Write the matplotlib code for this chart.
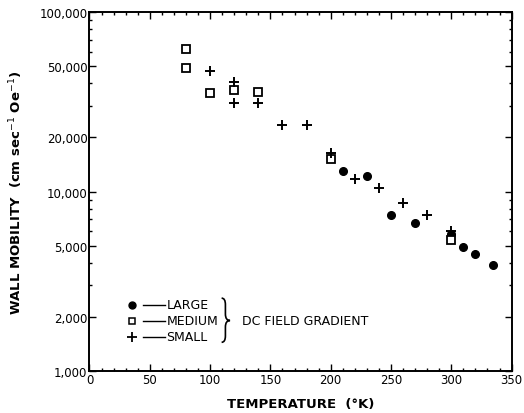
import matplotlib
matplotlib.use("Agg")
import matplotlib.pyplot as plt
from matplotlib.path import Path
from matplotlib.patches import PathPatch
from matplotlib.ticker import FixedLocator, FuncFormatter, MultipleLocator

# Data (temperature in K, wall mobility in cm sec^-1 Oe^-1)
large_T = [210, 230, 250, 270, 300, 310, 320, 335]
large_mu = [13000, 12200, 7400, 6700, 5800, 4900, 4500, 3900]

medium_T = [80, 80, 100, 120, 140, 200, 300]
medium_mu = [62000, 48500, 35500, 37000, 36000, 15200, 5400]

small_T = [100, 120, 120, 140, 160, 180, 200, 220, 240, 260, 280, 300]
small_mu = [47000, 41000, 31000, 31000, 23500, 23400, 16400, 11700, 10400, 8600, 7400, 6000]

y_major = [1000, 2000, 5000, 10000, 20000, 50000, 100000]
y_major_labels = ["1,000", "2,000", "5,000", "10,000", "20,000", "50,000", "100,000"]
x_major = [0, 50, 100, 150, 200, 250, 300, 350]
x_major_labels = ["0", "50", "100", "150", "200", "250", "300", "350"]

plt.rcParams['font.family'] = ['DejaVu Sans']

fig = plt.figure(figsize=(5.24, 4.14), dpi=100)
ax = fig.add_axes([0.1708, 0.1014, 0.8055, 0.8672])

ax.set_yscale('log')
ax.set_xlim(0, 350)
ax.set_ylim(1000, 100000)

ax.plot(large_T, large_mu, linestyle='none', marker='o', ms=5.5, mfc='black', mec='black', zorder=3)
ax.plot(medium_T, medium_mu, linestyle='none', marker='s', ms=5.5, mfc='white', mec='black', mew=1.3, zorder=3)
ax.plot(small_T, small_mu, linestyle='none', marker='+', ms=7.5, mec='black', mew=1.4, zorder=4)

ax.xaxis.set_major_locator(FixedLocator(x_major))
ax.xaxis.set_minor_locator(MultipleLocator(10))
ax.set_xticklabels(x_major_labels)
ax.yaxis.set_major_locator(FixedLocator(y_major))
minor_y = [v * m for v in (1000, 10000) for m in range(2, 10)]
minor_y = [v for v in minor_y if v not in y_major]
ax.yaxis.set_minor_locator(FixedLocator(minor_y))
ax.yaxis.set_minor_formatter(FuncFormatter(lambda v, p: ""))
ax.set_yticklabels(y_major_labels)

ax.tick_params(which='both', direction='in', top=True, right=True, width=1.0, colors='black')
ax.tick_params(which='major', length=5, labelsize=8.5, pad=1.5)
ax.tick_params(which='minor', length=2.5)
for s in ax.spines.values():
    s.set_linewidth(1.4)

ax.set_xlabel("TEMPERATURE  (°K)", fontsize=9.5, fontweight='bold', labelpad=8)
ax.set_ylabel("WALL MOBILITY  (cm sec$^{-1}$ Oe$^{-1}$)", fontsize=9.5, fontweight='bold', labelpad=10)

# Legend drawn manually
rows = [(0.1847, 'o', 'LARGE'), (0.1407, 's', 'MEDIUM'), (0.0961, '+', 'SMALL')]
for yy, mk, lab in rows:
    if mk == 'o':
        ax.plot([0.1007], [yy], marker='o', ms=5, mfc='black', mec='black', transform=ax.transAxes, clip_on=False)
    elif mk == 's':
        ax.plot([0.1007], [yy], marker='s', ms=5, mfc='white', mec='black', mew=1.1, transform=ax.transAxes, clip_on=False)
    else:
        ax.plot([0.1007], [yy], marker='+', ms=7, mec='black', mew=1.3, transform=ax.transAxes, clip_on=False)
    ax.plot([0.126, 0.178], [yy, yy], color='black', lw=1.0, transform=ax.transAxes)
    ax.text(0.182, yy, lab, transform=ax.transAxes, fontsize=9, va='center', ha='left')

# curly brace
x0, x1, x2 = 0.313, 0.322, 0.333
ytop, ymid, ybot, d = 0.203, 0.1407, 0.080, 0.018
verts = [(x0, ytop), (x1, ytop), (x1, ytop - d),
         (x1, ymid + d), (x1, ymid), (x2, ymid),
         (x1, ymid), (x1, ymid - d),
         (x1, ybot + d), (x1, ybot), (x0, ybot)]
codes = [Path.MOVETO, Path.CURVE3, Path.CURVE3,
         Path.LINETO, Path.CURVE3, Path.CURVE3,
         Path.CURVE3, Path.CURVE3,
         Path.LINETO, Path.CURVE3, Path.CURVE3]
ax.add_patch(PathPatch(Path(verts, codes), fill=False, lw=1.2, edgecolor='black',
                       transform=ax.transAxes, clip_on=False))
ax.text(0.361, 0.1407, "DC FIELD GRADIENT", transform=ax.transAxes, fontsize=9, va='center', ha='left')

fig.savefig("out.png", dpi=100, facecolor='white')
